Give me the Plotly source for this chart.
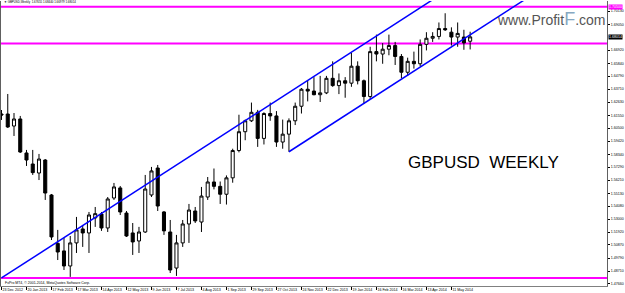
import plotly.graph_objects as go

# ---- weekly GBPUSD candles (bar 0 = week of 23 Dec 2012) ----
opens = [1.6166, 1.6166, 1.6067, 1.6125, 1.5845, 1.5754, 1.5680, 1.5787, 1.5499, 1.5100,
         1.5038, 1.4914, 1.5104, 1.5219, 1.5186, 1.5310, 1.5342, 1.5227, 1.5474, 1.5557,
         1.5350, 1.5186, 1.5120, 1.5194, 1.5499, 1.5721, 1.5359, 1.5194, 1.4897, 1.5104,
         1.5260, 1.5367, 1.5276, 1.5482, 1.5606, 1.5570, 1.5505, 1.5640, 1.5865, 1.6020,
         1.6110, 1.6180, 1.5965, 1.6170, 1.6150, 1.5935, 1.6000, 1.6110, 1.6230, 1.6370,
         1.6355, 1.6325, 1.6340, 1.6460, 1.6400, 1.6440, 1.6420, 1.6560, 1.6440, 1.6310,
         1.6680, 1.6660, 1.6700, 1.6730, 1.6640, 1.6510, 1.6600, 1.6580, 1.6740, 1.6790,
         1.6805, 1.6870, 1.6840, 1.6800, 1.6800, 1.67655]
highs = [1.6199, 1.6331, 1.6174, 1.6150, 1.5870, 1.5870, 1.5837, 1.5795, 1.5507, 1.5211,
         1.5145, 1.5161, 1.5318, 1.5252, 1.5359, 1.5400, 1.5359, 1.5482, 1.5598, 1.5573,
         1.5367, 1.5268, 1.5236, 1.5664, 1.5730, 1.5746, 1.5367, 1.5293, 1.5170, 1.5293,
         1.5425, 1.5400, 1.5565, 1.5647, 1.5717, 1.5610, 1.5660, 1.5880, 1.6160, 1.6120,
         1.6260, 1.6200, 1.6180, 1.6260, 1.6190, 1.6120, 1.6130, 1.6260, 1.6380, 1.6445,
         1.6470, 1.6480, 1.6480, 1.6600, 1.6500, 1.6470, 1.6670, 1.6600, 1.6450, 1.6720,
         1.6820, 1.6750, 1.6820, 1.6760, 1.6660, 1.6630, 1.6680, 1.6780, 1.6840, 1.6840,
         1.6920, 1.6996, 1.6880, 1.6920, 1.6860, 1.68440]
lows = [1.6117, 1.6051, 1.5985, 1.5845, 1.5738, 1.5664, 1.5622, 1.5458, 1.5128, 1.4963,
        1.4881, 1.4824, 1.5021, 1.5071, 1.5021, 1.5236, 1.5203, 1.5194, 1.5458, 1.5334,
        1.5153, 1.5005, 1.5021, 1.5186, 1.5482, 1.5367, 1.5170, 1.4856, 1.4832, 1.5071,
        1.5104, 1.5268, 1.5194, 1.5458, 1.5545, 1.5425, 1.5420, 1.5600, 1.5850, 1.5950,
        1.6100, 1.5895, 1.5915, 1.6110, 1.5895, 1.5880, 1.5855, 1.6075, 1.6170, 1.6270,
        1.6320, 1.6265, 1.6330, 1.6390, 1.6330, 1.6300, 1.6390, 1.6410, 1.6250, 1.6290,
        1.6600, 1.6580, 1.6650, 1.6570, 1.6460, 1.6480, 1.6540, 1.6560, 1.6690, 1.6760,
        1.6780, 1.6850, 1.6730, 1.6720, 1.6695, 1.66979]
closes = [1.6158, 1.6059, 1.6125, 1.5853, 1.5787, 1.5683, 1.5795, 1.5515, 1.5153, 1.5029,
          1.4914, 1.5104, 1.5211, 1.5186, 1.5334, 1.5345, 1.5227, 1.5466, 1.5565, 1.5359,
          1.5161, 1.5112, 1.5194, 1.5548, 1.5697, 1.5408, 1.5203, 1.4881, 1.5104, 1.5260,
          1.5375, 1.5285, 1.5490, 1.5606, 1.5570, 1.5505, 1.5640, 1.5865, 1.6020, 1.6110,
          1.6180, 1.5965, 1.6170, 1.6150, 1.5935, 1.6000, 1.6110, 1.6230, 1.6370, 1.6355,
          1.6325, 1.6340, 1.6460, 1.6400, 1.6440, 1.6420, 1.6560, 1.6440, 1.6310, 1.6680,
          1.6660, 1.6700, 1.6730, 1.6640, 1.6510, 1.6600, 1.6580, 1.6740, 1.6790, 1.6805,
          1.6870, 1.6860, 1.6800, 1.6830, 1.6752, 1.68014]
bars = list(range(len(opens)))

# ---- date axis ----
tick_bars = [0, 4, 8, 12, 16, 20, 24, 28, 32, 36, 40, 44, 48, 52, 56, 60, 64, 68, 72]
tick_dates = ["23 Dec 2012", "20 Jan 2013", "17 Feb 2013", "17 Mar 2013", "14 Apr 2013",
              "12 May 2013", "9 Jun 2013", "7 Jul 2013", "4 Aug 2013", "1 Sep 2013",
              "29 Sep 2013", "27 Oct 2013", "24 Nov 2013", "22 Dec 2013", "19 Jan 2014",
              "16 Feb 2014", "16 Mar 2014", "13 Apr 2014", "11 May 2014"]

# ---- price axis ----
price_ticks = [1.47660, 1.48710, 1.49790, 1.50870, 1.51920, 1.53000, 1.54080, 1.55130,
               1.56210, 1.57290, 1.58340, 1.59420, 1.60500, 1.61550, 1.62630, 1.63710,
               1.64790, 1.65840, 1.66920, 1.69050, 1.70130]

# ---- drawn objects ----
level_lines = [1.70500, 1.67470, 1.48150]
top_level_label = 1.70500
last_close = 1.68014
upper_line_bars = [0, 75]
upper_line_prices = [1.4815, 1.7307]
lower_line_bars = [46, 84]
lower_line_prices = [1.5855, 1.7117]

title_text = "GBPUSD,Weekly  1.67655 1.68440 1.66979 1.68014"
FONT = "Liberation Sans"
AX = 3.6

fig = go.Figure()
fig.add_trace(go.Candlestick(
    x=bars, open=opens, high=highs, low=lows, close=closes,
    increasing=dict(line=dict(color="black", width=1), fillcolor="white"),
    decreasing=dict(line=dict(color="black", width=1), fillcolor="black"),
    whiskerwidth=0, hoverinfo="skip", showlegend=False))

for lv in level_lines:
    fig.add_hline(y=lv, line=dict(color="#ff00ff", width=2), layer="below")

fig.add_trace(go.Scatter(x=upper_line_bars, y=upper_line_prices, mode="lines",
                         line=dict(color="#0000ff", width=1.5), hoverinfo="skip",
                         showlegend=False))
fig.add_trace(go.Scatter(x=lower_line_bars, y=lower_line_prices, mode="lines",
                         line=dict(color="#0000ff", width=1.5), hoverinfo="skip",
                         showlegend=False))

fig.update_layout(
    width=625, height=293,
    margin=dict(l=1, r=18, t=1, b=7, autoexpand=False),
    paper_bgcolor="white", plot_bgcolor="white",
    showlegend=False,
    font=dict(family=FONT, color="black"),
    xaxis=dict(range=[-0.08, 96.9], rangeslider=dict(visible=False),
               tickmode="array", tickvals=tick_bars, ticktext=tick_dates,
               tickangle=0, automargin=False,
               ticklabelposition="outside right", ticks="outside", ticklen=3,
               tickcolor="#000", tickfont=dict(size=3.6, family=FONT),
               showgrid=False, zeroline=False, showline=True, linecolor="#808080",
               linewidth=1, fixedrange=True),
    yaxis=dict(range=[1.4749, 1.7097], side="right", automargin=False,
               tickmode="array", tickvals=price_ticks,
               ticktext=["%.5f" % v for v in price_ticks],
               ticks="outside", ticklen=2, tickcolor="#000",
               tickfont=dict(size=AX, family=FONT),
               showgrid=False, zeroline=False, showline=True, linecolor="#606060",
               linewidth=1, mirror=True, fixedrange=True),
)

annotations = [
    dict(text="▼ " + title_text, xref="paper", yref="paper", x=0.002, y=0.995,
         xanchor="left", yanchor="middle", showarrow=False,
         font=dict(size=2.9, family=FONT, color="black")),
    dict(text="FxPro MT4, © 2001-2014, MetaQuotes Software Corp.", xref="paper",
         yref="paper", x=0.003, y=0.011, xanchor="left", yanchor="middle",
         showarrow=False, font=dict(size=3.5, family=FONT, color="black")),
    dict(text="GBPUSD  WEEKLY", xref="paper", yref="paper", x=0.796, y=0.432,
         xanchor="center", yanchor="middle", showarrow=False,
         font=dict(size=17, family=FONT, color="black")),
    dict(text='www.Profit<span style="color:#86a8c2;font-size:18px">F</span>.com',
         xref="paper", yref="paper", x=0.908, y=0.937, xanchor="center",
         yanchor="middle", showarrow=False,
         font=dict(size=14, family=FONT, color="#555555")),
    dict(text="%.5f" % last_close, xref="paper", yref="y", x=1.0, y=last_close,
         xanchor="left", yanchor="middle", showarrow=False, xshift=1,
         bgcolor="black", borderpad=0, font=dict(size=AX, family=FONT, color="white")),
    dict(text="%.5f" % top_level_label, xref="paper", yref="y", x=1.0, y=top_level_label,
         xanchor="left", yanchor="middle", showarrow=False, xshift=1,
         bgcolor="#ff00ff", borderpad=0, font=dict(size=AX, family=FONT, color="white")),
]
fig.update_layout(annotations=annotations)

fig.write_html("out.html", config=dict(displayModeBar=False, staticPlot=True))
